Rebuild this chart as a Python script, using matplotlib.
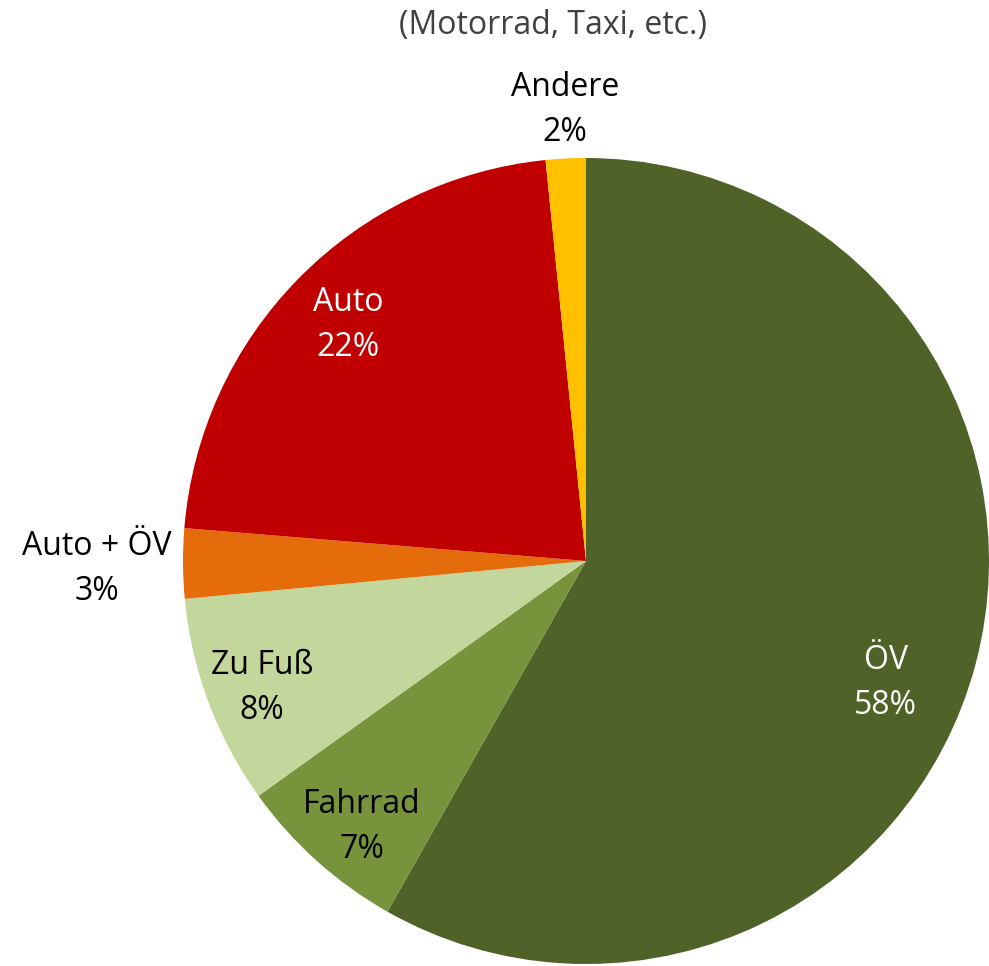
import matplotlib
matplotlib.use("Agg")
import matplotlib.pyplot as plt

categories = ["ÖV", "Fahrrad", "Zu Fuß", "Auto + ÖV", "Auto", "Andere"]
values = [58.2, 6.9, 8.4, 2.8, 22.1, 1.6]
colors = ["#4F6228", "#77933C", "#C3D69B", "#E46C0A", "#C00000", "#FFC000"]
label_colors = ["white", "black", "black", "black", "white", "black"]
label_pos = [(0.744, -0.303), (-0.556, -0.660), (-0.804, -0.315),
             (-1.213, -0.02), (-0.591, 0.586), (-0.052, 1.119)]
subtitle = "(Motorrad, Taxi, etc.)"

plt.rcParams['font.family'] = ['Open Sans', 'DejaVu Sans']

W, H = 989, 966
fig = plt.figure(figsize=(W / 100, H / 100), dpi=100)
ax = fig.add_axes([0, 0, 1, 1])
R = 403.0
cx, cy = 586.0, 561.0

ax.pie(values, colors=colors, startangle=90, counterclock=False,
       radius=1.0, center=(0, 0), wedgeprops=dict(linewidth=0))
ax.set_xlim(-cx / R, (W - cx) / R)
ax.set_ylim((cy - H) / R, cy / R)
ax.set_aspect('auto')
ax.axis('off')

total = sum(values)
for name, v, c, (x, y) in zip(categories, values, label_colors, label_pos):
    ax.text(x, y, f"{name}\n{round(v / total * 100):.0f}%", color=c,
            ha='center', va='center', fontsize=23, linespacing=1.5)

ax.text(-0.082, 1.330, subtitle, color="#404040", ha='center', va='center',
        fontsize=23)

fig.savefig("out.png", dpi=100)
